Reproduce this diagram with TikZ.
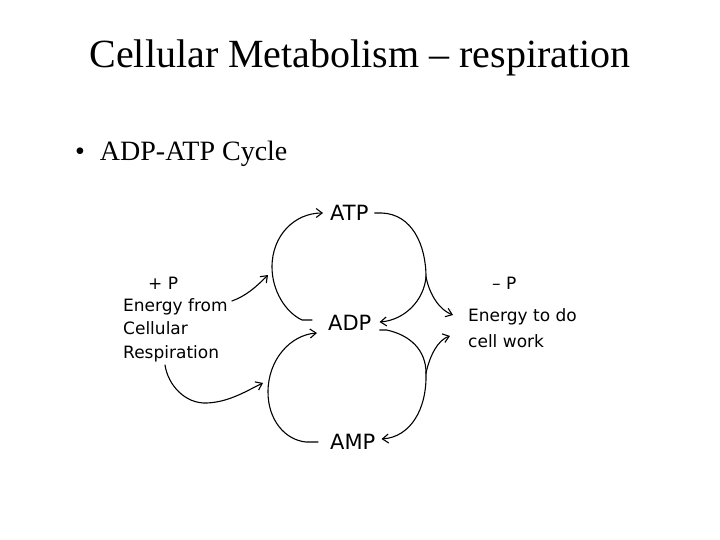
\documentclass[tikz,border=0pt]{standalone}
\usepackage{fontspec}
\setmainfont{Liberation Serif}
\newfontfamily\diagfont{DejaVu Sans}
\usetikzlibrary{arrows.meta}
\begin{document}
\begin{tikzpicture}[x=1pt,y=-1pt,
  cyclbl/.style={font=\diagfont\fontsize{21}{24}\selectfont, inner sep=0pt, anchor=west},
  txt/.style={font=\diagfont\fontsize{17}{20}\selectfont, inner sep=0pt, anchor=base west},
  curve/.style={line width=1.1pt, line cap=round},
  arr/.style={curve, -{Straight Barb[length=6pt,width=9pt,line width=1.1pt]}}]
\useasboundingbox (0,0) rectangle (720,540);
\node[font=\fontsize{40}{44}\selectfont, anchor=base, inner sep=0pt] (title) at (360,68) {Cellular Metabolism – respiration};
\node[font=\fontsize{28}{32}\selectfont, anchor=base west, inner sep=0pt] (bullet) at (75,161) {\textbullet\hspace{15pt}ADP-ATP Cycle};
% cycle labels
\node[cyclbl] (atp) at (330,213) {ATP};
\node[cyclbl] (adp) at (328,323) {ADP};
\node[cyclbl] (amp) at (330,442) {AMP};
% left texts
\node[txt] (plusp) at (148,289) {+ P};
\node[txt] (efrom) at (123,311) {Energy from};
\node[txt] (cell) at (123,334) {Cellular};
\node[txt] (resp) at (123,358) {Respiration};
% right texts
\node[txt] (minusp) at (492,289) {– P};
\node[txt] (etodo) at (468,321) {Energy to do};
\node[txt] (work) at (468,347) {cell work};
% named points
\coordinate (lj1) at (272,267);
\coordinate (lj2) at (268,392);
\coordinate (rj1) at (426,277);
\coordinate (rj2) at (426,373);
\coordinate (bot) at (207,403);
% upper left: ADP -> ATP
\draw[arr] ([xshift=-16pt,yshift=3pt]adp.west) -- ([xshift=-26pt,yshift=3pt]adp.west)
  .. controls (285,312) and (272,290) .. (lj1)
  .. controls (272,235) and (295,213) .. ([xshift=-7pt]atp.west);
% lower left: AMP -> ADP
\draw[arr] ([xshift=-12pt]amp.west) -- ([xshift=-24pt]amp.west)
  .. controls (285,440) and (268,420) .. (lj2)
  .. controls (268,360) and (290,335) .. ([xshift=-11pt,yshift=-10pt]adp.west);
% energy from cellular respiration
\draw[arr] ([xshift=4pt,yshift=10pt]efrom.base east) .. controls (246,296) and (256,287) .. (268,275);
\draw[arr] ([xshift=42pt,yshift=-7pt]resp.base west) .. controls (168,385) and (185,404) .. (bot)
  .. controls (230,402) and (248,390) .. (263,383);
% upper right: ATP -> ADP, branch to energy
\draw[curve] ([xshift=6pt]atp.east) -- ([xshift=13pt]atp.east)
  .. controls (412,214) and (426,245) .. (rj1);
\draw[arr] (rj1) .. controls (424,300) and (405,320) .. ([xshift=8pt,yshift=1pt]adp.east);
\draw[arr] (rj1) .. controls (430,296) and (440,310) .. ([xshift=-15pt,yshift=6pt]etodo.base west);
% lower right: ADP -> AMP, branch to energy
\draw[curve] ([xshift=8pt,yshift=-7pt]adp.east) -- ([xshift=15pt,yshift=-7pt]adp.east)
  .. controls (410,335) and (426,350) .. (rj2);
\draw[arr] (rj2) .. controls (427,410) and (410,437) .. ([xshift=6pt,yshift=3pt]amp.east);
\draw[arr] (rj2) .. controls (430,355) and (438,340) .. ([xshift=-18pt,yshift=11pt]work.base west);
\end{tikzpicture}
\end{document}
